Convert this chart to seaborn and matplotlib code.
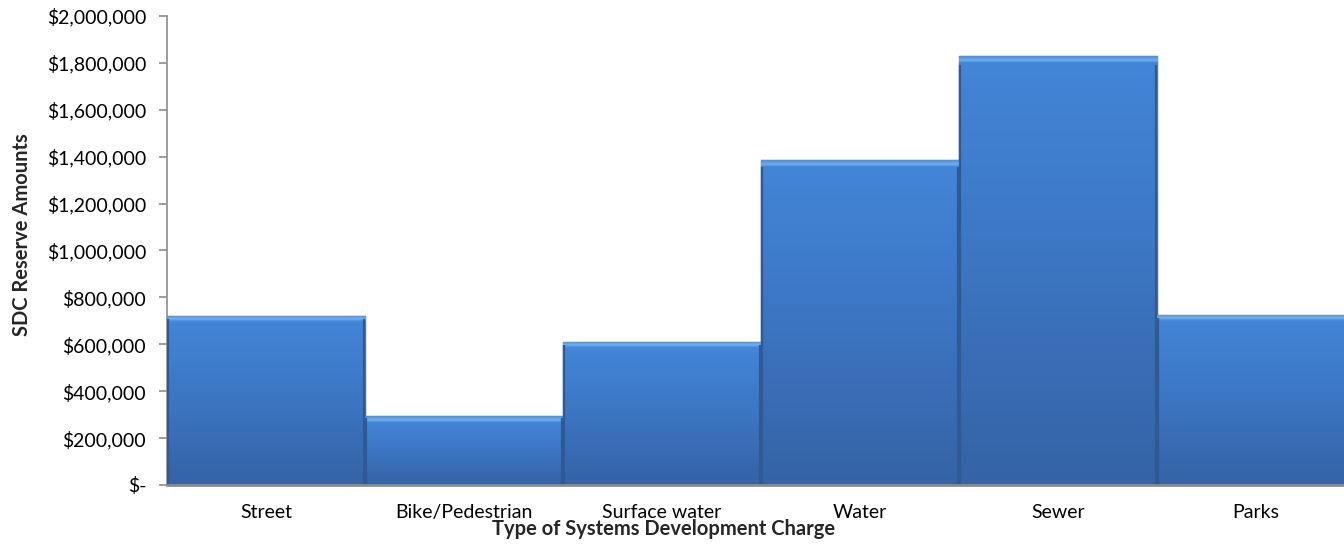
#!/usr/bin/env python3
"""SDC reserve amounts by type of systems development charge."""

import numpy as np
import pandas as pd
import matplotlib
matplotlib.use("Agg")
import matplotlib.pyplot as plt
import matplotlib.ticker as mticker
from matplotlib.colors import LinearSegmentedColormap
import seaborn as sns

# Data
categories = ["Street", "Bike/Pedestrian", "Surface water", "Water", "Sewer", "Parks"]
reserves = [721000, 292000, 611000, 1384000, 1829000, 725000]

df = pd.DataFrame({"type": categories, "amount": reserves})

sns.set_style("white")
plt.rcParams["font.family"] = ["Lato", "DejaVu Sans"]

fig = plt.figure(figsize=(13.44, 5.48), dpi=100)
ax = fig.add_axes([0.1243, 0.115, 0.884, 0.856])

sns.barplot(data=df, x="type", y="amount", color="#3f7dcf", width=1.0,
            edgecolor="#2d5a93", linewidth=1.0, saturation=1, ax=ax)

# Bevel-like vertical gradient on each bar
cmap = LinearSegmentedColormap.from_list(
    "bev", [(0.0, "#3563a6"), (0.55, "#3d78c6"), (0.93, "#4385d7"),
            (0.96, "#6fb0f2"), (1.0, "#4f91dc")])
for p in ax.patches:
    x0, w, h = p.get_x(), p.get_width(), p.get_height()
    # keep the highlight strip roughly constant in thickness
    n = max(int(h / 2000000 * 469), 10)
    rows = np.linspace(0, 1, n)
    top = 1 - 6 / n
    vals = np.where(rows < top, rows / top * 0.93, 0.93 + (rows - top) / (1 - top) * 0.07)
    im = ax.imshow(vals.reshape(-1, 1), cmap=cmap, vmin=0, vmax=1, aspect="auto",
                   origin="lower", extent=[x0, x0 + w, 0, h], zorder=2,
                   interpolation="bilinear")
    im.set_clip_path(p)
    # darker side edges
    ax.plot([x0 + 0.005, x0 + 0.005], [0, h * 0.98], color="#2f5a94", lw=1.6, zorder=3,
            solid_capstyle="butt")
    ax.plot([x0 + w - 0.005, x0 + w - 0.005], [0, h * 0.98], color="#2f5a94", lw=1.6,
            zorder=3, solid_capstyle="butt")

ax.set_xlim(-0.5, 5.5)
ax.set_ylim(0, 2000000)
ax.yaxis.set_major_locator(mticker.MultipleLocator(200000))
ax.yaxis.set_major_formatter(
    mticker.FuncFormatter(lambda v, _: "$-" if v == 0 else f"${v:,.0f}"))

sns.despine(ax=ax, top=True, right=True)
for side in ["left", "bottom"]:
    ax.spines[side].set_color("#8c8c8c")
ax.spines["left"].set_linewidth(1.2)
ax.spines["bottom"].set_linewidth(2.0)
ax.spines["bottom"].set_zorder(4)

ax.tick_params(axis="y", which="major", left=True, length=6, width=1.2,
               color="#8c8c8c", labelsize=14, pad=9, labelcolor="#000000")
ax.tick_params(axis="x", bottom=False, labelsize=14, pad=10, labelcolor="#000000")

ax.set_ylabel("SDC Reserve Amounts", fontsize=14.5, fontweight="bold")
ax.set_xlabel("Type of Systems Development Charge", fontsize=14.5, fontweight="bold")
ax.yaxis.set_label_coords(-0.114, 0.533)
ax.xaxis.set_label_coords(0.4175, -0.072)

fig.savefig("out.png", dpi=100, facecolor="white")
plt.close(fig)
